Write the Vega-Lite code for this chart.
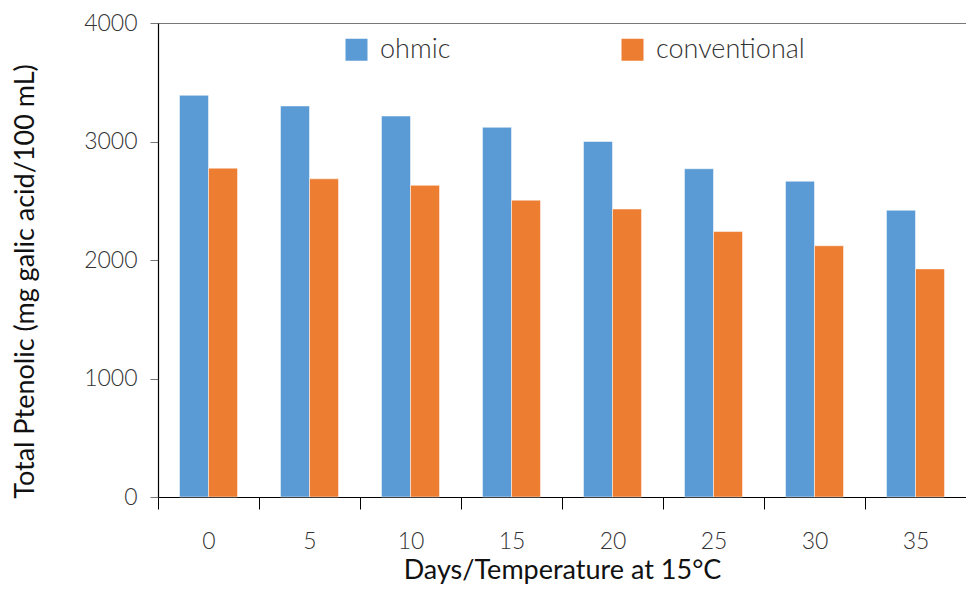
{
  "$schema": "https://vega.github.io/schema/vega-lite/v6.json",
  "autosize": {"type": "none"},
  "padding": {"left": 158, "top": 23, "right": 0, "bottom": 92},
  "width": 808,
  "height": 474,
  "background": "white",
  "config": {"view": {"stroke": null}, "font": "Lato"},
  "data": {"values": [
    {"day": "0", "method": "ohmic", "value": 3390},
    {"day": "0", "method": "conventional", "value": 2775},
    {"day": "5", "method": "ohmic", "value": 3300},
    {"day": "5", "method": "conventional", "value": 2685},
    {"day": "10", "method": "ohmic", "value": 3215},
    {"day": "10", "method": "conventional", "value": 2630},
    {"day": "15", "method": "ohmic", "value": 3120},
    {"day": "15", "method": "conventional", "value": 2505},
    {"day": "20", "method": "ohmic", "value": 3000},
    {"day": "20", "method": "conventional", "value": 2430},
    {"day": "25", "method": "ohmic", "value": 2770},
    {"day": "25", "method": "conventional", "value": 2240},
    {"day": "30", "method": "ohmic", "value": 2665},
    {"day": "30", "method": "conventional", "value": 2120},
    {"day": "35", "method": "ohmic", "value": 2420},
    {"day": "35", "method": "conventional", "value": 1925}
  ]},
  "mark": {"type": "bar", "stroke": "white", "strokeOpacity": 0.5, "strokeWidth": 1},
  "encoding": {
    "x": {
      "field": "day", "type": "nominal", "sort": null,
      "scale": {"paddingInner": 0, "paddingOuter": 0},
      "axis": {
        "title": "Days/Temperature at 15°C",
        "titleFontSize": 27, "titleFontWeight": "normal", "titleColor": "#111", "titlePadding": 4,
        "labelAngle": 0, "labelFontSize": 23, "labelColor": "#333", "labelFontWeight": 300,
        "labelPadding": 21,
        "tickBand": "extent", "tickSize": 12, "tickColor": "#000",
        "domainColor": "#000", "domainWidth": 1.2
      }
    },
    "xOffset": {
      "field": "method", "type": "nominal", "sort": ["ohmic", "conventional"],
      "scale": {"paddingInner": 0, "paddingOuter": 0.74}
    },
    "y": {
      "field": "value", "type": "quantitative",
      "scale": {"domain": [0, 4000], "nice": false},
      "axis": {
        "title": "Total Ptenolic (mg galic acid/100 mL)",
        "titleFontSize": 27, "titleFontWeight": "normal", "titleColor": "#111", "titlePadding": 44,
        "titleY": 258,
        "values": [0, 1000, 2000, 3000, 4000], "format": "d",
        "labelFontSize": 23, "labelColor": "#333", "labelFontWeight": 300, "labelPadding": 13,
        "tickSize": 8, "tickColor": "#777",
        "domainColor": "#000", "domainWidth": 1.2,
        "grid": true, "gridColor": "#777",
        "gridOpacity": {"condition": {"test": "datum.value == 4000", "value": 1}, "value": 0}
      }
    },
    "color": {
      "field": "method", "type": "nominal", "sort": ["ohmic", "conventional"],
      "scale": {"domain": ["ohmic", "conventional"], "range": ["#5B9BD5", "#ED7D31"]},
      "legend": {
        "title": null, "orient": "none", "legendX": 185, "legendY": 13,
        "direction": "horizontal", "columns": 2, "columnPadding": 168,
        "symbolType": "square", "symbolSize": 484, "symbolStrokeWidth": 0,
        "labelFontSize": 27, "labelColor": "#333", "labelFontWeight": 300, "labelOffset": 10
      }
    }
  }
}
